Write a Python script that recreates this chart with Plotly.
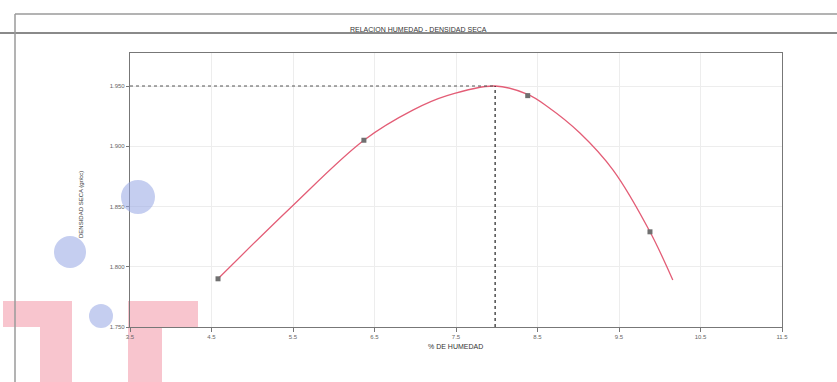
import plotly.graph_objects as go

# ---- data ----
test_humidity = [4.58, 6.37, 8.38, 9.88]          # % de humedad (ensayos)
test_density = [1.790, 1.905, 1.942, 1.829]       # densidad seca (gr/cc)

curve_humidity = [4.58, 5.47, 6.37, 6.97, 7.39, 7.98, 8.38, 8.62, 9.02, 9.43, 9.88, 10.16]
curve_density = [1.790, 1.849, 1.905, 1.930, 1.942, 1.950, 1.943, 1.933, 1.911, 1.880, 1.829, 1.789]

opt_humidity = 7.98     # humedad óptima
max_density = 1.950     # densidad seca máxima

x_ticks = [3.5, 4.5, 5.5, 6.5, 7.5, 8.5, 9.5, 10.5, 11.5]
y_ticks = [1.750, 1.800, 1.850, 1.900, 1.950]

W, H = 837, 382
L, R, T, B = 130, 782, 53, 327


def px(x):
    return (x - L) / (R - L)


def py(y):
    return (B - y) / (B - T)


fig = go.Figure()

# fitted compaction curve
fig.add_trace(go.Scatter(
    x=curve_humidity, y=curve_density, mode="lines",
    line=dict(color="#e35d76", width=1.3, shape="spline", smoothing=1.0),
    hoverinfo="skip", showlegend=False))

# test points
fig.add_trace(go.Scatter(
    x=test_humidity, y=test_density, mode="markers",
    marker=dict(symbol="square", size=5, color="#707070"),
    showlegend=False))

# reference lines at optimum
fig.add_trace(go.Scatter(
    x=[x_ticks[0], opt_humidity], y=[max_density, max_density], mode="lines",
    line=dict(color="#555", width=1, dash="dot"), showlegend=False))
fig.add_trace(go.Scatter(
    x=[opt_humidity, opt_humidity], y=[y_ticks[0], max_density], mode="lines",
    line=dict(color="#222", width=1.2, dash="dot"), showlegend=False))

pink = "rgba(242,140,158,0.5)"
blue = "rgba(150,165,228,0.55)"
shapes = [
    # page frame
    dict(type="line", xref="paper", yref="paper", x0=px(15), x1=px(837), y0=py(14), y1=py(14),
         line=dict(color="#9a9a9a", width=1.5)),
    dict(type="line", xref="paper", yref="paper", x0=px(0), x1=px(837), y0=py(33), y1=py(33),
         line=dict(color="#8a8a8a", width=2)),
    dict(type="line", xref="paper", yref="paper", x0=px(15), x1=px(15), y0=py(14), y1=py(382),
         line=dict(color="#9a9a9a", width=1.5)),
    # pink stamp marks
    dict(type="rect", xref="paper", yref="paper", x0=px(3), x1=px(72), y0=py(301), y1=py(327),
         fillcolor=pink, line=dict(width=0), layer="below"),
    dict(type="rect", xref="paper", yref="paper", x0=px(40), x1=px(72), y0=py(327), y1=py(382),
         fillcolor=pink, line=dict(width=0), layer="below"),
    dict(type="rect", xref="paper", yref="paper", x0=px(128), x1=px(198), y0=py(301), y1=py(327),
         fillcolor=pink, line=dict(width=0), layer="below"),
    dict(type="rect", xref="paper", yref="paper", x0=px(128), x1=px(162), y0=py(327), y1=py(382),
         fillcolor=pink, line=dict(width=0), layer="below"),
    # blue blots
    dict(type="circle", xref="paper", yref="paper", x0=px(121), x1=px(155), y0=py(180), y1=py(214),
         fillcolor=blue, line=dict(width=0)),
    dict(type="circle", xref="paper", yref="paper", x0=px(54), x1=px(86), y0=py(236), y1=py(268),
         fillcolor=blue, line=dict(width=0)),
    dict(type="circle", xref="paper", yref="paper", x0=px(89), x1=px(113), y0=py(304), y1=py(328),
         fillcolor=blue, line=dict(width=0)),
]

annotations = [
    dict(text="RELACION HUMEDAD - DENSIDAD SECA", xref="paper", yref="paper",
         x=px(418), y=py(24), showarrow=False, font=dict(size=7, color="#333", family="Liberation Sans")),
    dict(text="% DE HUMEDAD", xref="paper", yref="paper",
         x=px(455), y=py(352), showarrow=False, font=dict(size=7, color="#333", family="Liberation Sans")),
    dict(text="DENSIDAD SECA (gr/cc)", xref="paper", yref="paper", textangle=-90,
         x=px(76), y=py(205), showarrow=False, font=dict(size=6, color="#333", family="Liberation Sans")),
]

fig.update_layout(
    width=W, height=H,
    margin=dict(l=L, r=W - R, t=T, b=H - B),
    paper_bgcolor="white", plot_bgcolor="rgba(0,0,0,0)",
    shapes=shapes, annotations=annotations,
    font=dict(family="Liberation Sans", size=6, color="#555"),
    showlegend=False,
)
fig.update_xaxes(range=[3.5, 11.5], tickvals=x_ticks, ticktext=[f"{v:.1f}" for v in x_ticks],
                 showgrid=True, gridcolor="#ededed", gridwidth=1,
                 showline=True, linecolor="#777", linewidth=1.2, mirror=True,
                 ticks="outside", ticklen=4, tickcolor="#777", zeroline=False,
                 tickfont=dict(size=6, color="#666"))
fig.update_yaxes(range=[1.75, 1.9774], tickvals=y_ticks, ticktext=[f"{v:.3f}" for v in y_ticks],
                 showgrid=True, gridcolor="#ededed", gridwidth=1,
                 showline=True, linecolor="#777", linewidth=1.2, mirror=True,
                 ticks="outside", ticklen=3, tickcolor="#777", zeroline=False,
                 tickfont=dict(size=6, color="#666"))

fig.write_html("out.html")
